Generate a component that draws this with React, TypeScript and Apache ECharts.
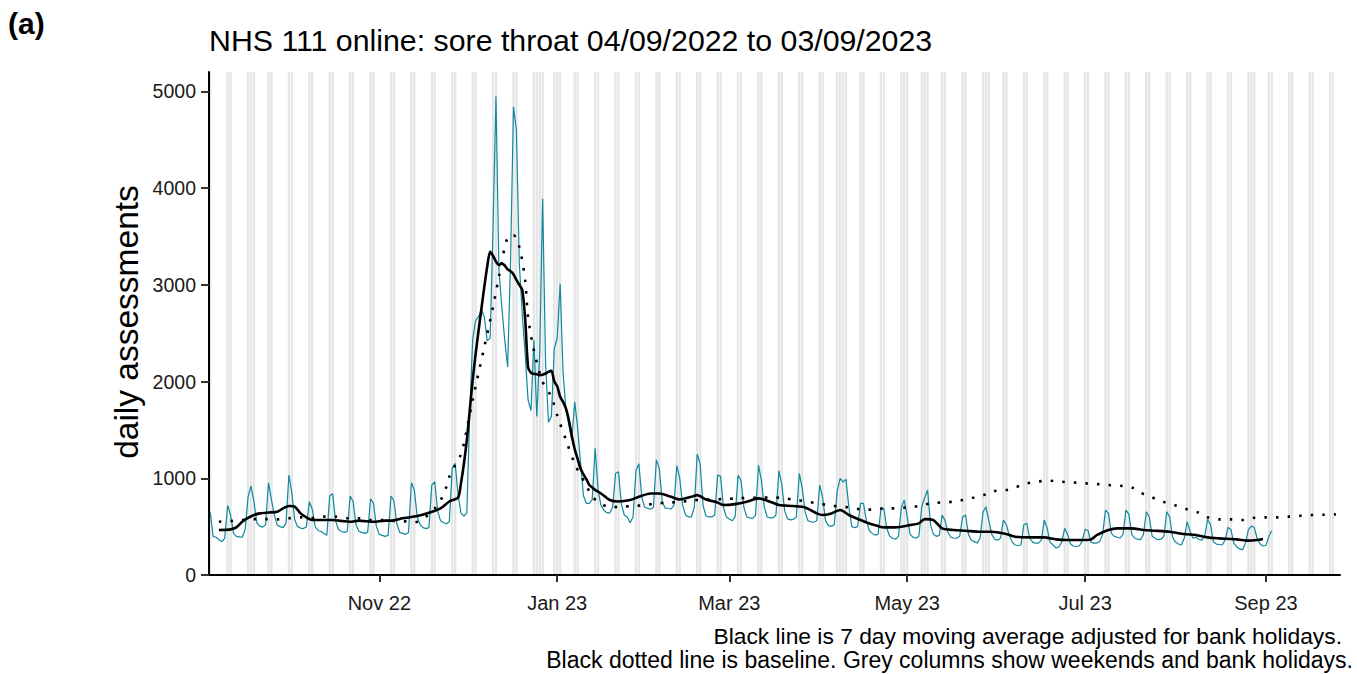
import React, { useEffect, useRef } from 'react';
import * as echarts from 'echarts';

const DAY = 86400000;
const START = Date.UTC(2022, 8, 4); // Sunday 04/09/2022 = day 0

// Daily NHS 111 online sore throat assessments, one row per week (Sun..Sat), from 04/09/2022
const dailyAssessments: number[][] = [
  [650, 400, 390, 365, 345, 380, 720],
  [620, 430, 400, 395, 390, 470, 810],
  [920, 760, 540, 505, 495, 520, 954],
  [780, 620, 516, 500, 490, 534, 1033],
  [850, 568, 500, 485, 480, 500, 757],
  [680, 500, 460, 450, 430, 410, 820],
  [840, 560, 470, 450, 440, 450, 816],
  [760, 520, 450, 440, 430, 440, 788],
  [740, 500, 420, 410, 400, 410, 816],
  [770, 530, 440, 430, 420, 440, 954],
  [880, 600, 520, 490, 480, 490, 930],
  [964, 660, 560, 540, 530, 550, 1100],
  [1154, 830, 640, 610, 640, 1670, 2430],
  [2630, 2670, 2740, 2670, 2420, 2450, 3600],
  [4950, 3150, 2770, 2430, 2150, 3250, 4840],
  [4600, 3220, 2700, 2290, 1810, 1700, 2430],
  [1640, 2300, 3890, 2190, 1580, 1640, 2340],
  [2450, 3010, 2090, 1710, 1550, 1400, 1790],
  [1520, 1160, 820, 740, 740, 780, 1310],
  [880, 720, 670, 645, 640, 700, 1050],
  [1067, 730, 620, 600, 540, 600, 1080],
  [1150, 800, 700, 690, 680, 700, 1190],
  [1100, 760, 690, 690, 680, 720, 1130],
  [1000, 720, 620, 600, 600, 700, 1250],
  [1150, 720, 610, 600, 600, 620, 1033],
  [1020, 700, 600, 580, 560, 600, 1030],
  [980, 700, 600, 590, 585, 620, 1136],
  [980, 700, 600, 590, 590, 620, 1078],
  [940, 660, 580, 570, 575, 600, 1050],
  [900, 650, 560, 550, 545, 560, 930],
  [800, 560, 510, 505, 520, 870, 1000],
  [960, 990, 700, 500, 490, 500, 740],
  [740, 560, 460, 430, 413, 420, 680],
  [689, 480, 400, 380, 370, 400, 700],
  [775, 600, 420, 390, 380, 400, 706],
  [800, 878, 520, 420, 400, 410, 620],
  [560, 440, 390, 380, 380, 400, 600],
  [620, 420, 360, 345, 330, 380, 650],
  [706, 560, 420, 370, 360, 380, 568],
  [520, 410, 340, 310, 305, 310, 520],
  [534, 380, 340, 330, 330, 360, 568],
  [480, 340, 310, 280, 290, 340, 482],
  [420, 320, 300, 295, 300, 350, 472],
  [460, 340, 330, 330, 345, 420, 671],
  [640, 430, 400, 390, 380, 420, 671],
  [630, 420, 380, 370, 365, 420, 654],
  [600, 400, 380, 365, 370, 400, 654],
  [600, 390, 340, 320, 310, 380, 551],
  [450, 380, 390, 370, 360, 400, 576],
  [520, 340, 320, 315, 310, 360, 492],
  [470, 330, 290, 270, 260, 330, 470],
  [506, 490, 380, 320, 300, 305, 400],
  [458],
];

// 7 day moving average: [day since 04/09/2022, value]
const movingAverage: [number, number][] = [
  [3, 465], [7, 472], [9, 492], [11, 551], [13, 590], [15, 620], [17, 637], [20, 646], [23, 654],
  [25, 689], [27, 713], [29, 706], [31, 637], [33, 596], [35, 568], [39, 568], [42, 568], [46, 555],
  [48, 551], [51, 562], [56, 551], [60, 562], [62, 562], [66, 586], [71, 610], [75, 644], [79, 689],
  [82, 760], [85, 801], [86, 950], [87, 1150], [88, 1395], [89, 1700], [90, 2014], [91, 2280],
  [92, 2520], [93, 2750], [94, 2980], [95, 3190], [96, 3340], [97, 3300], [98, 3240], [99, 3205],
  [100, 3220], [101, 3200], [102, 3160], [103, 3140], [104, 3110], [105, 3050], [106, 3000],
  [107, 2950], [108, 2650], [109, 2150], [110, 2090], [111, 2080], [112, 2075], [113, 2066],
  [114, 2070], [115, 2083], [116, 2100], [117, 2110], [118, 2000], [119, 1950], [120, 1843],
  [121, 1790], [122, 1720], [123, 1600], [124, 1440], [125, 1300], [126, 1200], [127, 1100],
  [128, 1040], [129, 990], [130, 930], [131, 905], [132, 880], [134, 843], [137, 775], [140, 760],
  [144, 775], [147, 809], [151, 843], [154, 843], [158, 809], [161, 781], [165, 809], [167, 826],
  [170, 781], [174, 750], [176, 723], [180, 733], [184, 758], [188, 792], [192, 758], [195, 723],
  [200, 713], [204, 699], [208, 637], [210, 620], [213, 637], [216, 672], [219, 620], [223, 568],
  [226, 532], [229, 506], [231, 492], [235, 492], [240, 516], [243, 534], [245, 578], [248, 568],
  [251, 482], [255, 465], [259, 458], [264, 447], [268, 447], [273, 423], [276, 396], [281, 389],
  [286, 389], [290, 368], [294, 362], [298, 362], [302, 368], [304, 413], [308, 465], [311, 482],
  [316, 482], [320, 465], [324, 458], [329, 447], [334, 423], [338, 413], [342, 389], [346, 379],
  [352, 368], [356, 355], [359, 362], [361, 372],
];

// Baseline: [day since 04/09/2022, value]
const baseline: [number, number][] = [
  [3, 551], [7, 558], [11, 568], [15, 578], [19, 578], [23, 575], [27, 586], [31, 596], [35, 590],
  [39, 603], [43, 603], [47, 586], [51, 586], [55, 568], [59, 568], [63, 560], [66, 558], [70, 545],
  [74, 603], [77, 689], [79, 770], [81, 912], [82, 1015], [84, 1136], [86, 1246], [87, 1360],
  [90, 1808], [94, 2358], [97, 2772], [99, 3082], [102, 3495], [104, 3512], [106, 3391], [108, 3047],
  [109, 2668], [111, 2324], [114, 1997], [117, 1842], [119, 1650], [122, 1395], [125, 1150],
  [127, 1033], [129, 925], [131, 810], [134, 740], [137, 700], [141, 706], [145, 713], [149, 723],
  [153, 740], [157, 747], [161, 757], [165, 768], [169, 781], [172, 781], [176, 785], [181, 792],
  [185, 799], [189, 799], [193, 802], [197, 792], [201, 775], [205, 758], [208, 740], [212, 723],
  [216, 706], [219, 699], [223, 679], [227, 676], [231, 689], [235, 689], [239, 699], [243, 713],
  [247, 740], [251, 751], [255, 758], [258, 775], [262, 802], [266, 833], [269, 868], [273, 878],
  [276, 905], [280, 947], [284, 967], [288, 974], [292, 964], [296, 957], [300, 947], [304, 940],
  [308, 930], [312, 923], [316, 905], [319, 851], [323, 802], [327, 754], [331, 719], [335, 678],
  [339, 644], [342, 596], [346, 575], [350, 575], [354, 568], [358, 592], [362, 596], [366, 596],
  [370, 603], [374, 613], [378, 620], [382, 623], [386, 627],
];

const bankHolidays = [
  '2022-09-19', '2022-12-26', '2022-12-27', '2023-01-02', '2023-04-07',
  '2023-04-10', '2023-05-01', '2023-05-08', '2023-05-29', '2023-08-28',
];

const xTickDates = ['2022-11-01', '2023-01-01', '2023-03-01', '2023-05-01', '2023-07-01', '2023-09-01'];
const xTickLabels = ['Nov 22', 'Jan 23', 'Mar 23', 'May 23', 'Jul 23', 'Sep 23'];
const yTicks = [0, 1000, 2000, 3000, 4000, 5000];

const titleText = 'NHS 111 online: sore throat 04/09/2022 to 03/09/2023';
const yAxisTitle = 'daily assessments';
const captionLines = [
  'Black line is 7 day moving average adjusted for bank holidays.',
  'Black dotted line is baseline. Grey columns show weekends and bank holidays.',
];
const panelTag = '(a)';

const FONT = '"Liberation Sans", Arial, Helvetica, sans-serif';

export default function App() {
  const ref = useRef<HTMLDivElement>(null);

  useEffect(() => {
    if (!ref.current) return;
    const chart = echarts.init(ref.current, undefined, { renderer: 'svg' });

    const xMin = START - 0.4 * DAY;
    const xMax = START + 387.4 * DAY;

    const daily = dailyAssessments.flat();
    const blueData = daily.map((v, i) => [START + i * DAY, v]);
    const maData = movingAverage.map(([d, v]) => [START + d * DAY, v]);
    const baseData = baseline.map(([d, v]) => [START + d * DAY, v]);

    const holidaySet = new Set(bankHolidays.map((s) => Date.parse(s)));
    const greyAreas: any[] = [];
    for (let d = 0; d <= 387; d++) {
      const t = START + d * DAY;
      const dow = new Date(t).getUTCDay();
      if (dow === 0 || dow === 6 || holidaySet.has(t)) {
        greyAreas.push([{ xAxis: t - 0.4 * DAY }, { xAxis: t + 0.4 * DAY }]);
      }
    }

    const xTickValues = xTickDates.map((s) => Date.parse(s));

    chart.setOption({
      animation: false,
      backgroundColor: '#ffffff',
      grid: {
        left: 209,
        right: 17,
        top: 72,
        bottom: 99,
        containLabel: false,
        outerBoundsMode: 'none',
      },
      xAxis: {
        type: 'value',
        min: xMin,
        max: xMax,
        z: 5,
        axisLine: { show: true, onZero: false, lineStyle: { color: '#000', width: 2 } },
        axisTick: {
          show: true,
          length: 7,
          customValues: xTickValues,
          lineStyle: { color: '#333', width: 2 },
        },
        axisLabel: {
          customValues: xTickValues,
          margin: 18,
          fontSize: 20,
          fontFamily: FONT,
          color: '#1a1a1a',
          formatter: (v: number) => {
            let best = 0;
            for (let i = 0; i < xTickValues.length; i++) {
              if (Math.abs(xTickValues[i] - v) < Math.abs(xTickValues[best] - v)) best = i;
            }
            return xTickLabels[best];
          },
        },
        splitLine: { show: false },
      },
      yAxis: {
        type: 'value',
        min: 0,
        max: 5200,
        z: 5,
        axisLine: { show: true, onZero: false, lineStyle: { color: '#000', width: 2 } },
        axisTick: {
          show: true,
          length: 8,
          customValues: yTicks,
          lineStyle: { color: '#333', width: 2 },
        },
        axisLabel: {
          customValues: yTicks,
          margin: 13,
          fontSize: 19.5,
          fontFamily: FONT,
          color: '#1a1a1a',
          formatter: (v: number) => String(Math.round(v)),
        },
        splitLine: { show: false },
      },
      series: [
        {
          type: 'line',
          name: 'daily assessments',
          data: blueData,
          showSymbol: false,
          symbol: 'none',
          lineStyle: { color: '#11889c', width: 1.2 },
          z: 2,
          silent: true,
          markArea: {
            silent: true,
            label: { show: false },
            itemStyle: { color: '#e6e6e6', borderWidth: 0 },
            data: greyAreas,
          },
        },
        {
          type: 'line',
          name: 'baseline',
          data: baseData,
          showSymbol: false,
          symbol: 'none',
          smooth: 0.3,
          lineStyle: { color: '#000', width: 2.6, type: [2.6, 9], cap: 'butt' },
          z: 3,
          silent: true,
        },
        {
          type: 'line',
          name: '7 day moving average',
          data: maData,
          showSymbol: false,
          symbol: 'none',
          smooth: 0.25,
          lineStyle: { color: '#000', width: 2.6 },
          z: 4,
          silent: true,
        },
      ],
      graphic: [
        {
          type: 'text',
          left: 8,
          top: 8,
          style: { text: panelTag, font: `bold 30px ${FONT}`, fill: '#000' },
        },
        {
          type: 'text',
          x: 209,
          y: 40,
          style: {
            text: titleText,
            font: `30.3px ${FONT}`,
            fill: '#000',
            textAlign: 'left',
            textVerticalAlign: 'middle',
          },
        },
        {
          type: 'text',
          x: 126,
          y: 322,
          rotation: Math.PI / 2,
          style: {
            text: yAxisTitle,
            font: `33.5px ${FONT}`,
            fill: '#000',
            textAlign: 'center',
            textVerticalAlign: 'middle',
          },
        },
        {
          type: 'text',
          x: 1342,
          y: 636,
          style: {
            text: captionLines[0],
            font: `22.8px ${FONT}`,
            lineHeight: 22,
            fill: '#000',
            textAlign: 'right',
            textVerticalAlign: 'middle',
          },
        },
        {
          type: 'text',
          x: 1353,
          y: 660,
          style: {
            text: captionLines[1],
            font: `23px ${FONT}`,
            lineHeight: 22,
            fill: '#000',
            textAlign: 'right',
            textVerticalAlign: 'middle',
          },
        },
      ],
    });

    return () => {
      chart.dispose();
    };
  }, []);

  return (
    <div
      ref={ref}
      style={{ position: 'absolute', left: 0, top: 0, width: 1357, height: 674 }}
    />
  );
}
